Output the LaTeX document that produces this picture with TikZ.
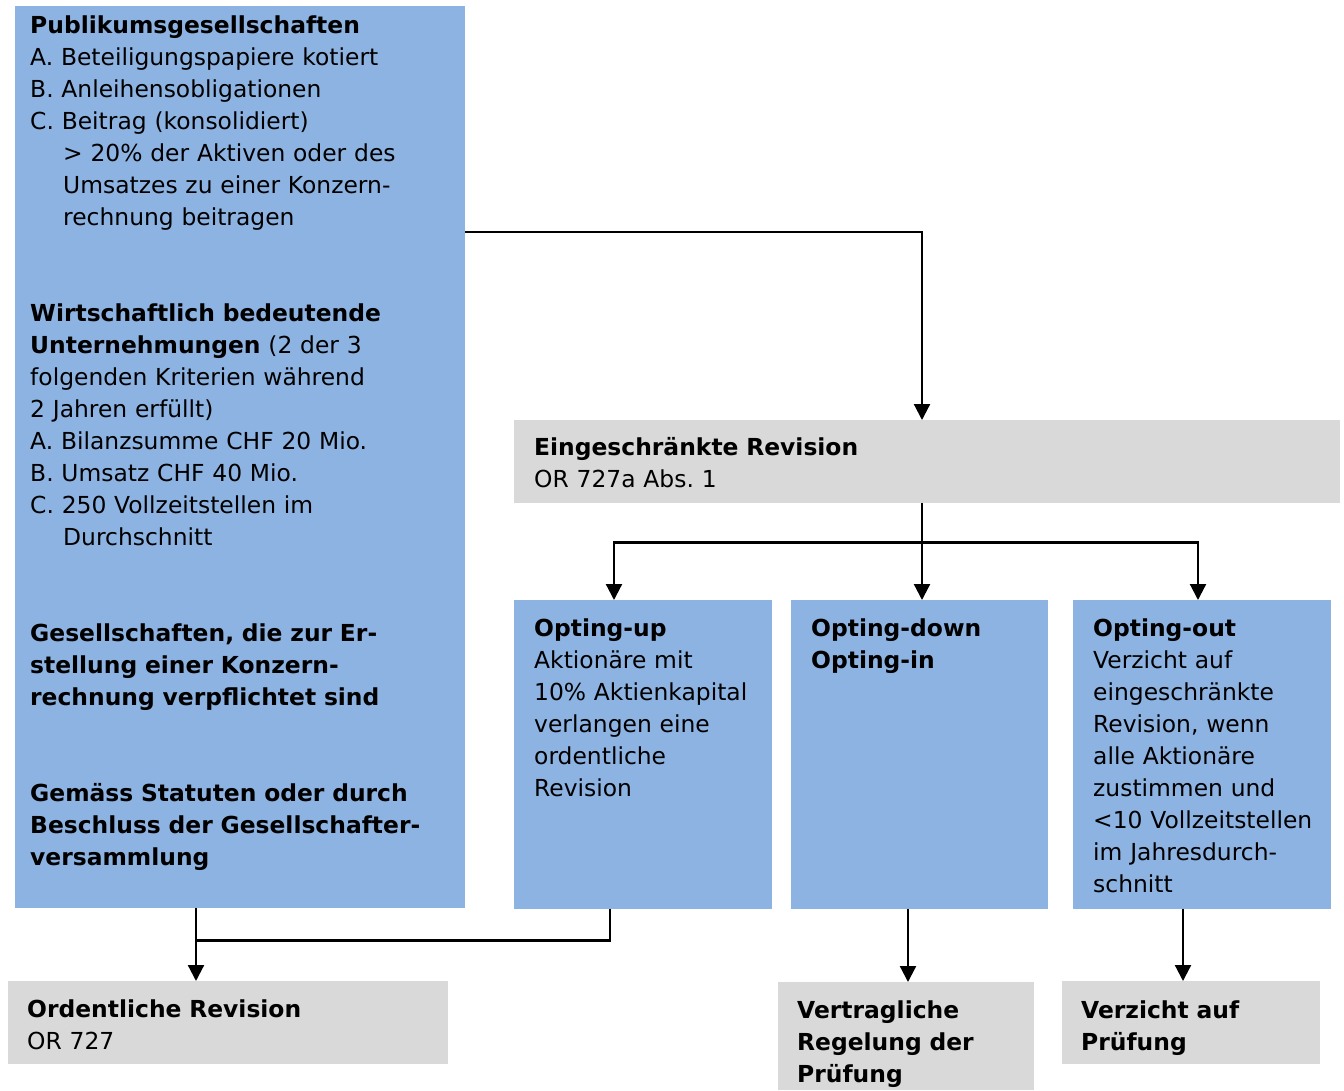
\documentclass[tikz,border=0pt]{standalone}
\usepackage{fontspec}
\setmainfont{DejaVu Sans}
\usetikzlibrary{positioning, calc, arrows.meta}
\definecolor{boxblue}{HTML}{8DB3E2}
\definecolor{boxgray}{HTML}{D9D9D9}

\begin{document}
\begin{tikzpicture}[x=1pt, y=-1pt,
    box/.style={anchor=north west, inner ysep=0pt, align=left, font=\fontsize{23.4}{32}\selectfont},
    arr/.style={-{Triangle[width=16pt, length=16pt]}, line width=2.2pt}]
    \useasboundingbox (0,0) rectangle (1344,1090);

    \node[box, fill=boxblue, inner xsep=15pt, text width=420pt, text height=27pt, text depth=875pt] (pub) at (15,6)
        {{\bfseries Publikumsgesellschaften}\\
         A. Beteiligungspapiere kotiert\\
         B. Anleihensobligationen\\
         C. Beitrag (konsolidiert)\\
         \hspace*{33pt}> 20\% der Aktiven oder des\\
         \hspace*{33pt}Umsatzes zu einer Konzern-\\
         \hspace*{33pt}rechnung beitragen\\[64pt]
         {\bfseries Wirtschaftlich bedeutende}\\
         {\bfseries Unternehmungen} (2 der 3\\
         folgenden Kriterien während\\
         2 Jahren erfüllt)\\
         A. Bilanzsumme CHF 20 Mio.\\
         B. Umsatz CHF 40 Mio.\\
         C. 250 Vollzeitstellen im\\
         \hspace*{33pt}Durchschnitt\\[64pt]
         {\bfseries Gesellschaften, die zur Er-}\\
         {\bfseries stellung einer Konzern-}\\
         {\bfseries rechnung verpflichtet sind}\\[64pt]
         {\bfseries Gemäss Statuten oder durch}\\
         {\bfseries Beschluss der Gesellschafter-}\\
         {\bfseries versammlung}};

    \node[box, fill=boxgray, inner xsep=20pt, text width=786pt, text height=35pt, text depth=48pt] (eing) at (514,420)
        {{\bfseries Eingeschränkte Revision}\\OR 727a Abs.~1};

    \node[box, fill=boxblue, inner xsep=20pt, text width=218pt, text height=36pt, text depth=273pt] (up) at (514,600)
        {{\bfseries Opting-up}\\Aktionäre mit\\\mbox{10\% Aktienkapital}\\verlangen eine\\ordentliche\\Revision};
    \node[box, fill=boxblue, inner xsep=20pt, text width=217pt, text height=36pt, text depth=273pt] (down) at (791,600)
        {{\bfseries Opting-down}\\{\bfseries Opting-in}};
    \node[box, fill=boxblue, inner xsep=20pt, text width=218pt, text height=36pt, text depth=273pt] (out) at (1073,600)
        {{\bfseries Opting-out}\\Verzicht auf\\eingeschränkte\\Revision, wenn\\alle Aktionäre\\zustimmen und\\\mbox{<10 Vollzeitstellen}\\im Jahresdurch-\\schnitt};

    \node[box, fill=boxgray, inner xsep=19pt, text width=402pt, text height=36pt, text depth=47pt] (ord) at (8,981)
        {{\bfseries Ordentliche Revision}\\OR 727};
    \node[box, fill=boxgray, inner xsep=19pt, text width=218pt, text height=36pt, text depth=72pt] (vert) at (778,982)
        {{\bfseries Vertragliche}\\{\bfseries Regelung der}\\{\bfseries Prüfung}};
    \node[box, fill=boxgray, inner xsep=19pt, text width=220pt, text height=37pt, text depth=46pt] (verz) at (1062,981)
        {{\bfseries Verzicht auf}\\{\bfseries Prüfung}};

    \draw[arr] ($(pub.north east)+(0,226)$) -| ($(eing.north west)+(408,0)$);
    \draw[arr] ($(eing.south west)+(408,0)$) -- ($(down.north west)+(131,0)$);
    \coordinate (split) at ($(eing.south west)+(408,39)$);
    \draw[arr] (split) -| ($(up.north west)+(100,0)$);
    \draw[arr] (split) -| ($(out.north west)+(125,0)$);

    \draw[arr] ($(pub.south west)+(181,0)$) -- ($(ord.north west)+(188,0)$);
    \draw[line width=2.2pt] ($(up.south west)+(96,0)$) |- ($(pub.south west)+(181,32)$);
    \draw[arr] ($(down.south west)+(117,0)$) -- ($(vert.north west)+(130,0)$);
    \draw[arr] ($(out.south west)+(110,0)$) -- ($(verz.north west)+(121,0)$);

\end{tikzpicture}
\end{document}
